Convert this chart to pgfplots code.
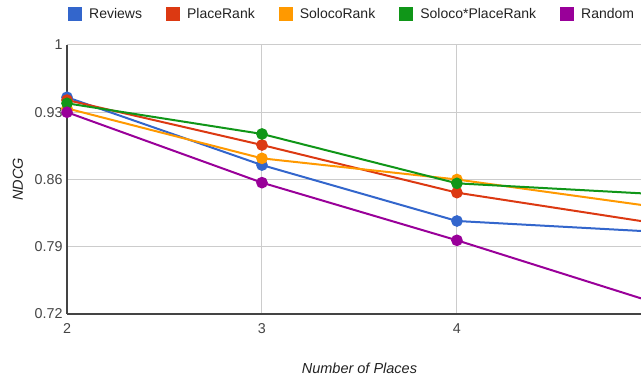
\documentclass[border=0pt]{standalone}
\usepackage{pgfplots}
\pgfplotsset{compat=1.18}
\usepackage{fontspec}
\setmainfont{Liberation Sans}

\definecolor{cReviews}{HTML}{3366CC}
\definecolor{cPlace}{HTML}{DC3912}
\definecolor{cSoloco}{HTML}{FF9900}
\definecolor{cCombo}{HTML}{109618}
\definecolor{cRandom}{HTML}{990099}
\definecolor{tickgray}{HTML}{444444}
\definecolor{titlegray}{HTML}{222222}
\definecolor{gridgray}{HTML}{CCCCCC}
\definecolor{axisgray}{HTML}{444444}

\begin{document}
\begin{tikzpicture}[x=1pt,y=1pt]
\useasboundingbox (0,0) rectangle (641,379);
\clip (0,0) rectangle (641,379);
\begin{axis}[
  at={(67pt,65pt)}, anchor=south west,
  scale only axis,
  width=574pt, height=269pt,
  xmin=2, xmax=4.944,
  ymin=0.72, ymax=1,
  xtick={2,3,4},
  ytick={0.72,0.79,0.86,0.93,1},
  yticklabels={0.72,0.79,0.86,0.93,1},
  axis lines=left,
  axis line style={-, draw=axisgray, line width=1.2pt},
  major tick length=0pt,
  grid=major,
  major grid style={draw=gridgray, line width=1pt},
  /pgf/number format/assume math mode=true,
  tick label style={font=\fontsize{14.3}{16}\selectfont, text=tickgray},
  xticklabel style={yshift=-6pt},
  yticklabel style={xshift=-1pt},
  xlabel={Number of Places},
  ylabel={NDCG},
  label style={font=\fontsize{14.5}{17}\selectfont\itshape, text=titlegray},
  xlabel style={at={(axis description cs:0.5095,0)}, anchor=center, yshift=-54pt},
  ylabel style={at={(axis description cs:0,0.5)}, anchor=center, yshift=49pt},
  every axis plot/.append style={line width=2pt, mark=*, mark size=4.8pt},
  legend columns=5,
  legend style={
    at={(axis description cs:0,1)}, anchor=west,
    xshift=1pt, yshift=31pt,
    draw=none, fill=none, inner sep=0pt,
    font=\fontsize{14}{16}\selectfont, text=titlegray,
    /tikz/every odd column/.append style={column sep=5pt},
    /tikz/every even column/.append style={column sep=22pt},
  },
  legend image code/.code={\fill[#1, draw=none] (0pt,-7pt) rectangle (14pt,7pt);},
]
\addplot[color=cReviews] coordinates {(2,0.9456) (3,0.875) (4,0.8168) (5,0.8058)};
\addlegendentry{Reviews}
\addplot[color=cPlace] coordinates {(2,0.9427) (3,0.8959) (4,0.8463) (5,0.815)};
\addlegendentry{PlaceRank}
\addplot[color=cSoloco] coordinates {(2,0.934) (3,0.882) (4,0.860) (5,0.832)};
\addlegendentry{SolocoRank}
\addplot[color=cCombo] coordinates {(2,0.9393) (3,0.9074) (4,0.856) (5,0.845)};
\addlegendentry{Soloco*PlaceRank}
\addplot[color=cRandom] coordinates {(2,0.930) (3,0.8567) (4,0.7967) (5,0.7327)};
\addlegendentry{Random}
\end{axis}
\end{tikzpicture}
\end{document}
